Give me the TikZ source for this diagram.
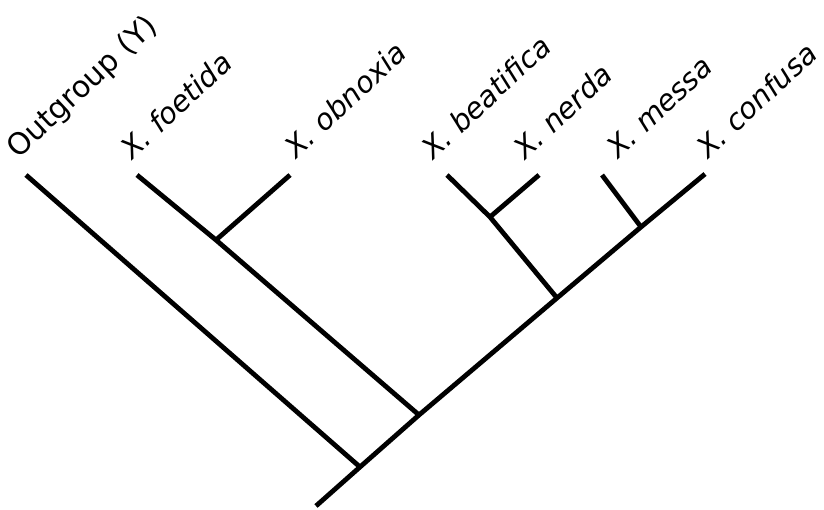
\documentclass[tikz,border=0pt]{standalone}
\usepackage{fontspec}
\setmainfont{DejaVu Sans}
\begin{document}
\begin{tikzpicture}[x=1pt,y=-1pt,
  branch/.style={line width=4.8pt,line cap=butt,line join=miter,black},
  taxon/.style={anchor=base west,rotate=43,inner sep=0pt,font=\fontsize{29}{31}\selectfont\itshape},
  outlabel/.style={anchor=base west,rotate=43,inner sep=0pt,font=\fontsize{30}{32}\selectfont}]
\useasboundingbox (0,0) rectangle (824,510);
% tips
\coordinate (out) at (26,175);
\coordinate (foe) at (137,175);
\coordinate (obn) at (290,175);
\coordinate (bea) at (447,175);
\coordinate (ner) at (539,175);
\coordinate (mes) at (602,175);
\coordinate (con) at (705,174);
% internal nodes
\coordinate (base) at (316,506);
\coordinate (root) at (360,467);
\coordinate (n1) at (419,415);
\coordinate (nfo) at (216,240);
\coordinate (nbe) at (557,298);
\coordinate (nne) at (490,217);
\coordinate (nme) at (641,227);
% branches
\draw[branch] (base) -- (root) -- (n1) -- (nbe) -- (nme) -- (con);
\draw[branch] (root) -- (out);
\draw[branch] (n1) -- (nfo) -- (foe);
\draw[branch] (nfo) -- (obn);
\draw[branch] (nbe) -- (nne) -- (bea);
\draw[branch] (nne) -- (ner);
\draw[branch] (nme) -- (mes);
% labels
\node[outlabel] (lout) at (18,160) {Outgroup (Y)};
\node[taxon] (lfoe) at (132,161) {X. foetida};
\node[taxon] (lobn) at (296,160) {X. obnoxia};
\node[taxon] (lbea) at (433,161) {X. beatifica};
\node[taxon] (lner) at (525,161) {X. nerda};
\node[taxon] (lmes) at (618,160) {X. messa};
\node[taxon] (lcon) at (708,160) {X. confusa};
\end{tikzpicture}
\end{document}
